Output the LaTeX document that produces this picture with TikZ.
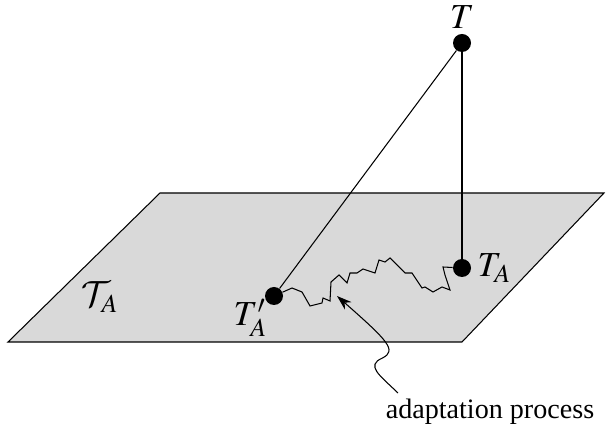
\documentclass[tikz,border=0pt]{standalone}
\usepackage{mathptmx}
\DeclareMathAlphabet{\mathcal}{OMS}{cmsy}{m}{n}
\usepackage[no-math]{fontspec}
\setmainfont{Liberation Serif}
\usepackage{tikz}
\usetikzlibrary{positioning,arrows.meta}
\definecolor{cplane}{HTML}{D9D9D9}

\begin{document}
\begin{tikzpicture}[>={Stealth[length=3mm,width=2mm]},
  dot/.style={circle,fill=black,inner sep=0pt,minimum size=0.36cm},
  lbl/.style={font=\fontsize{16}{19}\selectfont},
  mlbl/.style={font=\fontsize{20}{24}\selectfont}]
  \useasboundingbox (0,0) rectangle (12.12,8.66);
  % the plane
  \draw[fill=cplane,line width=0.6pt] (0.16,1.82) -- (3.2,4.8) -- (12.08,4.8) -- (9.24,1.82) -- cycle;
  \node[mlbl] (tset) at (2.0,2.72) {$\mathcal{T}_A$};
  % the points
  \node[dot] (t) at (9.24,7.8) {};
  \node[dot] (ta) at (9.24,3.3) {};
  \node[dot] (tap) at (5.48,2.74) {};
  \node[mlbl,above=-0.02cm of t] (tlab) {$T$};
  \node[mlbl,right=0.0cm of ta] (talab) {$T_A$};
  \node[mlbl,below left=-0.2cm and -0.12cm of tap] (taplab) {$T'_A$};
  \draw[line width=0.6pt] (t) -- (ta);
  \draw[line width=0.6pt] (t) -- (tap);
  % the walk
  \draw[line width=0.6pt] (tap) -- (5.84,2.9) -- (6.04,2.82) -- (6.2,2.54) -- (6.44,2.6) -- (6.46,2.7)
    -- (6.6,2.64) -- (6.62,3.02) -- (6.78,3.16) -- (6.94,3.0) -- (7.0,3.2) -- (7.14,3.2) -- (7.26,3.28)
    -- (7.5,3.2) -- (7.58,3.46) -- (7.7,3.42) -- (7.8,3.5) -- (8.1,3.2) -- (8.24,3.2) -- (8.44,2.9)
    -- (8.5,2.92) -- (8.66,2.82) -- (8.84,2.92) -- (9.0,2.86) -- (8.9,3.16) -- (8.86,3.32) -- (ta);
  % the label
  \node[lbl] (proc) at (9.8,0.42) {adaptation process};
  \coordinate (src) at (7.96,0.8);
  \coordinate (tip) at (6.74,2.74);
  \draw[->,line width=0.6pt] (src) .. controls (7.6,1.15) and (7.3,1.35) .. (7.65,1.5) .. controls (7.95,1.65) and (7.75,1.85) .. (tip);
\end{tikzpicture}
\end{document}
